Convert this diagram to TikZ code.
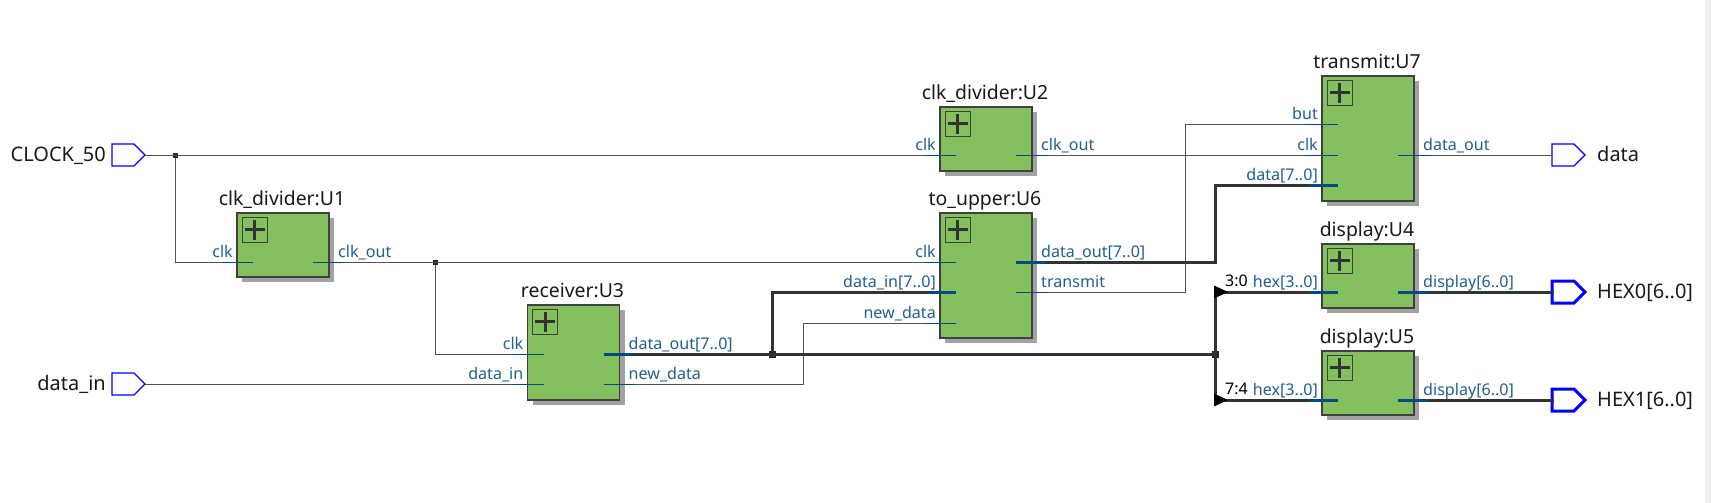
\documentclass[tikz,border=0pt]{standalone}
\usepackage{fontspec}
\setmainfont{Noto Sans}
\usetikzlibrary{calc,shadows,shapes.symbols}
\definecolor{blockgreen}{HTML}{85C05F}
\definecolor{portblue}{HTML}{1F5F8C}
\definecolor{stubblue}{HTML}{004B7F}
\definecolor{wiregray}{HTML}{404040}
\definecolor{shadowgray}{HTML}{A2A2A2}
\definecolor{bandgray}{HTML}{EFEFEF}
\tikzset{
	wire/.style={line width=1pt, color=wiregray!90},
	bus/.style={line width=3pt, color=black!80, line cap=rect},
	stub/.style={line width=1pt, color=stubblue},
	stubbus/.style={line width=3pt, color=stubblue},
	portlab/.style={font=\fontsize{16.1}{18}\selectfont, text=portblue, inner sep=0pt},
	instlab/.style={font=\fontsize{19.4}{22}\selectfont, text=black!90, inner sep=0pt, anchor=base},
	pinlab/.style={font=\fontsize{20}{22}\selectfont, text=black!90, inner sep=0pt},
	slicelab/.style={font=\fontsize{16}{18}\selectfont, text=black, inner sep=0pt, anchor=base west},
	blockbox/.style={draw=wiregray, line width=1.2pt, fill=blockgreen, minimum width=92pt, inner sep=0pt, outer sep=0pt, anchor=north west, drop shadow={shadow xshift=5pt, shadow yshift=-5pt, fill=shadowgray, opacity=1}},
	plusbox/.style={draw=wiregray, line width=1.2pt, minimum size=25pt, inner sep=0pt, anchor=north west},
	pinbox/.style={signal, signal to=east, signal pointer angle=90, draw=blue, fill=white, line width=1.2pt, minimum width=33pt, minimum height=22pt, inner sep=0pt, outer sep=0pt, anchor=west},
	pinbus/.style={pinbox, line width=3pt},
	junction/.style={fill=black!85, minimum size=5pt, inner sep=0pt},
	busjunction/.style={fill=black!85, minimum size=7pt, inner sep=0pt}
}
\def\block(#1)(#2,#3)(#4)#5{
	\node[blockbox, minimum height=#4] (#1) at (#2,#3) {};
	\node[instlab] (#1title) at ($(#1.north)+(-1,-7.5)$) {#5};
	\node[plusbox] (#1plus) at ($(#1.north west)+(4.5,3.7)$) {};
	\draw[line width=2.8pt, color=black!80] ($(#1plus.center)+(-10,0)$) -- ($(#1plus.center)+(10,0)$);
	\draw[line width=2.8pt, color=black!80] ($(#1plus.center)+(0,-10)$) -- ($(#1plus.center)+(0,10)$);
}
\def\inport[#1](#2)(#3,#4)#5{
	\coordinate (#2) at ($(#3.west |- 0,#4)+(-15,0)$);
	\draw[#1] (#2) -- ++(31,0);
	\node[portlab, anchor=base east] (#2lab) at ($(#3.west |- 0,#4)+(-4,-5)$) {#5};
}
\def\outport[#1](#2)(#3,#4)#5{
	\coordinate (#2) at ($(#3.east |- 0,#4)+(15,0)$);
	\draw[#1] (#2) -- ++(-31,0);
	\node[portlab, anchor=base west] (#2lab) at ($(#3.east |- 0,#4)+(9,-5)$) {#5};
}
\def\ripper(#1)#2{
	\fill[black] ($(#1)+(-1,-6.5)$) -- ($(#1)+(13,0)$) -- ($(#1)+(-1,6.5)$) -- cycle;
	\node[slicelab] (#1lab) at ($(#1)+(10,-5.5)$) {#2};
}

\begin{document}
\begin{tikzpicture}[x=1pt, y=-1pt]
	%%%%% START %%%%%
	\useasboundingbox (0,0) rectangle (1711,503);
	\fill[bandgray] (1705,0) rectangle (1711,503);
	
	\block(U1)(237,213)(64pt){clk\_divider:U1}
	\block(U2)(940,107)(64pt){clk\_divider:U2}
	\block(U3)(527.5,305)(95pt){receiver:U3}
	\block(U6)(940,213)(125pt){to\_upper:U6}
	\block(U7)(1322,76)(125pt){transmit:U7}
	\block(U4)(1322,244)(64pt){display:U4}
	\block(U5)(1322,351)(64pt){display:U5}
	
	\inport[stub](U1clk)(U1,262){clk}
	\outport[stub](U1out)(U1,262){clk\_out}
	\inport[stub](U2clk)(U2,155){clk}
	\outport[stub](U2out)(U2,155){clk\_out}
	\inport[stub](U3clk)(U3,354){clk}
	\inport[stub](U3in)(U3,384){data\_in}
	\outport[stubbus](U3out)(U3,354){data\_out[7..0]}
	\outport[stub](U3new)(U3,384){new\_data}
	\inport[stub](U6clk)(U6,262){clk}
	\inport[stubbus](U6in)(U6,292.5){data\_in[7..0]}
	\inport[stub](U6new)(U6,323){new\_data}
	\outport[stubbus](U6out)(U6,262){data\_out[7..0]}
	\outport[stub](U6tx)(U6,292.5){transmit}
	\inport[stub](U7but)(U7,124){but}
	\inport[stub](U7clk)(U7,155){clk}
	\inport[stubbus](U7data)(U7,185.5){data[7..0]}
	\outport[stub](U7out)(U7,155){data\_out}
	\inport[stubbus](U4hex)(U4,292){hex[3..0]}
	\outport[stubbus](U4out)(U4,292){display[6..0]}
	\inport[stubbus](U5hex)(U5,400){hex[3..0]}
	\outport[stubbus](U5out)(U5,400){display[6..0]}
	
	\node[pinbox] (clockpin) at (112,155) {};
	\node[pinlab, anchor=base east] (clocklab) at (106,161.5) {CLOCK\_50};
	\node[pinbox] (datainpin) at (112,384) {};
	\node[pinlab, anchor=base east] (datainlab) at (106,390.5) {data\_in};
	\node[pinbox] (datapin) at (1552,155) {};
	\node[pinlab, anchor=base west] (datalab) at (1597,161.5) {data};
	\node[pinbus] (hexzeropin) at (1552,292) {};
	\node[pinlab, anchor=base west] (hexzerolab) at (1597,298.5) {HEX0[6..0]};
	\node[pinbus] (hexonepin) at (1552,400) {};
	\node[pinlab, anchor=base west] (hexonelab) at (1597,406.5) {HEX1[6..0]};
	
	\node[junction] (clockjoin) at (175.5,155) {};
	\node[junction] (dividejoin) at (435,262) {};
	\node[busjunction] (datajoin) at (772,354) {};
	\node[busjunction] (hexjoin) at (1215,354) {};
	\coordinate (newturn) at (803,340);
	\coordinate (txturn) at (1185,200);
	\coordinate (dataturn) at (1215,220);
	\coordinate (hexzero) at (hexjoin |- U4hex);
	\coordinate (hexone) at (hexjoin |- U5hex);
	
	\draw[wire] (clockpin.east) -- (U2clk);
	\draw[wire] (clockjoin) |- (U1clk);
	\draw[wire] (U1out) -- (U6clk);
	\draw[wire] (dividejoin) |- (U3clk);
	\draw[wire] (datainpin.east) -- (U3in);
	\draw[wire] (U2out) -- (U7clk);
	\draw[wire] (U7out) -- (datapin.west);
	\draw[wire] (U3new) -- (newturn |- U3new) -- (newturn |- U6new) -- (U6new);
	\draw[wire] (U6tx) -- (txturn |- U6tx) -- (txturn |- U7but) -- (U7but);
	
	\draw[bus] (U3out) -- (hexjoin);
	\draw[bus] (datajoin) |- (U6in);
	\draw[bus] (U6out) -- (dataturn |- U6out) -- (dataturn |- U7data) -- (U7data);
	\draw[bus] (hexzero) -- (hexone);
	\draw[bus] (hexzero) -- (U4hex);
	\draw[bus] (hexone) -- (U5hex);
	\draw[bus] (U4out) -- (hexzeropin.west);
	\draw[bus] (U5out) -- (hexonepin.west);
	
	\ripper(hexzero){3:0}
	\ripper(hexone){7:4}
	
	%%%%% END %%%%%
\end{tikzpicture}
\end{document}
